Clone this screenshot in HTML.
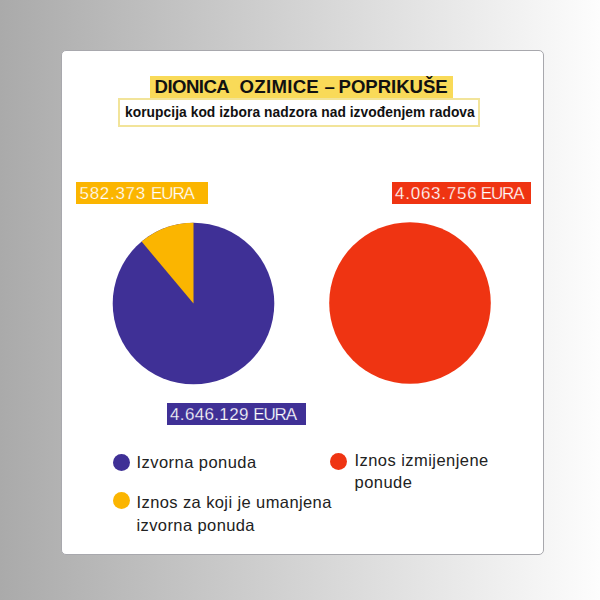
<!DOCTYPE html>
<html><head><meta charset="utf-8">
<style>
html,body{margin:0;padding:0;}
body{width:600px;height:600px;position:relative;overflow:hidden;
 background:linear-gradient(to right,#aaaaaa 0%,#fdfdfd 100%);
 font-family:"Liberation Sans",sans-serif;}
.card{position:absolute;left:61px;top:50px;width:481px;height:503px;background:#fff;border:1px solid #a8a8ad;border-radius:5px;}
.abs{position:absolute;white-space:nowrap;}
.title{left:150px;top:75.8px;width:303px;height:21.8px;background:#f9da58;}
.title span{position:absolute;top:0.8px;font-weight:bold;font-size:18.6px;line-height:20px;color:#111;}
.sub{left:118px;top:97.6px;width:358px;height:25.4px;background:#fff;border:2.2px solid #f2e49a;}
.sub span{position:absolute;left:5px;top:3.1px;font-weight:bold;font-size:13.8px;letter-spacing:0.05px;line-height:20px;color:#111;}
.lab{height:21.7px;color:#fff;font-size:17px;letter-spacing:0.2px;line-height:21.7px;}
.lab span{position:absolute;left:4px;top:1px;}
.lab .e{letter-spacing:-1.1px;}
.leg{font-size:16.5px;letter-spacing:0.45px;line-height:22.5px;color:#222;}
.dot{position:absolute;width:17px;height:17px;border-radius:50%;}
</style></head>
<body>
<div class="card"></div>
<div class="abs title"><span style="left:4.5px;letter-spacing:-0.55px">DIONICA</span><span style="left:89.5px;letter-spacing:0.3px">OZIMICE</span><span style="left:174.5px">–</span><span style="left:188.6px;letter-spacing:-0.05px">POPRIKUŠE</span></div>
<div class="abs sub"><span>korupcija kod izbora nadzora nad izvođenjem radova</span></div>

<div class="abs lab" style="left:76px;top:182px;width:132px;background:#fbb500;-webkit-text-stroke:0.25px #fbb500;"><span class="n" style="left:3.5px;letter-spacing:0.7px">582.373</span><span class="e" style="left:75px">EURA</span></div>
<div class="abs lab" style="left:392px;top:182px;width:138.5px;background:#ef3412;-webkit-text-stroke:0.25px #ef3412;"><span class="n" style="left:3px;letter-spacing:0.75px">4.063.756</span><span class="e" style="left:88.7px">EURA</span></div>
<div class="abs lab" style="left:167px;top:403px;width:139px;height:21.7px;background:#3f3096;-webkit-text-stroke:0.25px #3f3096;"><span class="n" style="left:3px;letter-spacing:0.35px">4.646.129</span><span class="e" style="left:86.2px">EURA</span></div>

<svg class="abs" style="left:0;top:0" width="600" height="600">
 <circle cx="193.5" cy="303.5" r="80.8" fill="#3f3096"/>
 <path d="M193.5 303.5 L193.5 222.7 A80.8 80.8 0 0 0 141.6 241.6 Z" fill="#fbb500"/>
 <circle cx="410" cy="303" r="80.8" fill="#ef3412"/>
</svg>

<div class="dot" style="left:112.5px;top:454px;background:#3f3096;"></div>
<div class="abs leg" style="left:136.5px;top:451px;">Izvorna ponuda</div>
<div class="dot" style="left:112.5px;top:492px;background:#fbb500;"></div>
<div class="abs leg" style="left:136.5px;top:491.3px;letter-spacing:0.4px;">Iznos za koji je umanjena<br>izvorna ponuda</div>
<div class="dot" style="left:330px;top:453px;background:#ef3412;"></div>
<div class="abs leg" style="left:354.5px;top:448.8px;">Iznos izmijenjene<br>ponude</div>
</body></html>
